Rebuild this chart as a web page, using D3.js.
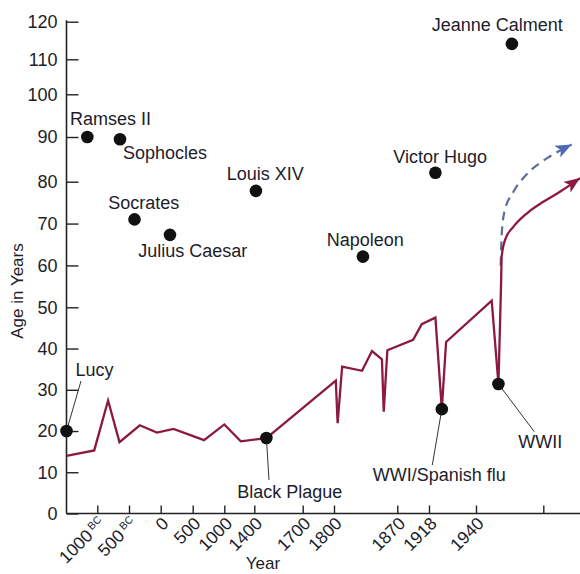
<!DOCTYPE html>
<html>
<head>
<meta charset="utf-8">
<script src="https://cdn.jsdelivr.net/npm/d3@7"></script>
<style>
  html, body { margin: 0; padding: 0; background: #ffffff; }
  svg { display: block; font-family: "Liberation Sans", Arial, sans-serif; }
</style>
</head>
<body>
<svg id="chart" width="580" height="574"></svg>
<script>
// ---------- DATA ----------
// x axis tick values (years, negative = BC) and their labels
const tickYears = [-1000, -500, 0, 500, 1000, 1400, 1700, 1800, 1870, 1918, 1940, 2000];
const tickLabels = ["1000", "500", "0", "500", "1000", "1400", "1700", "1800", "1870", "1918", "1940", ""];
const tickSuffix = ["BC", "BC", "", "", "", "", "", "", "", "", "", ""];
const ageTicks = [0, 10, 20, 30, 40, 50, 60, 70, 80, 90, 100, 110, 120];

// life expectancy line
const lineYears = [-1500, -1050, -830, -650, -330, -60, 200, 680, 1000, 1220, 1475, 1802, 1804, 1809, 1831, 1842, 1853, 1855, 1859, 1894, 1907, 1921, 1924, 1926, 1954, 1960];
const lineAges  = [14, 15.3, 27.4, 17.3, 21.4, 19.6, 20.5, 17.8, 21.6, 17.5, 18.3, 32.2, 21.9, 35.6, 34.6, 39.4, 37.4, 24.7, 39.6, 42.1, 45.9, 47.5, 25.3, 41.6, 51.6, 31.4];

// projections
const projYears = [1960, 1962.3, 1962.9, 1965.9, 1973.3, 1985.2, 2000, 2013.6, 2030];
const projAges  = [31.4, 55, 62.1, 66.1, 69.2, 72.4, 75.2, 77.6, 80.8];
const dashYears = [1962, 1962.4, 1963.2, 1965.5, 1973, 1986.6, 2002.8, 2023.2];
const dashAges  = [60, 64, 68.5, 73, 77.4, 82, 85.2, 88.3];

// famous people
const people      = ["Ramses II", "Sophocles", "Socrates", "Julius Caesar", "Louis XIV", "Napoleon", "Victor Hugo", "Jeanne Calment"];
const peopleYears = [-1162, -642, -413, 145, 1410, 1832, 1921, 1972];
const peopleAges  = [90, 89.5, 71, 67.3, 77.8, 62.1, 82, 114.1];

// events on the curve
const events      = ["Lucy", "Black Plague", "WWI/Spanish flu", "WWII"];
const eventYears  = [-1500, 1475, 1924, 1960];
const eventAges   = [20, 18.3, 25.3, 31.4];

// ---------- LAYOUT ----------
const xBreaks = [-1500, -1000, -500, 0, 500, 1000, 1400, 1700, 1800, 1870, 1918, 1940, 2000, 2030];
const xPix    = [66.5, 97.3, 129, 160.7, 192.7, 224.3, 254.3, 302.7, 334, 397.3, 429, 476, 543.3, 580];
const yBreaks = [0, 50, 80, 90, 100, 110, 120];
const yPix    = [513.5, 307.3, 181.7, 137, 94.3, 59.3, 21.7];

const peopleLabelPos = [[70,125],[123,159],[108.3,209.3],[138.3,257.3],[226.7,180],[326.7,246],[393.3,163],[431.7,31]];
const eventLabelPos  = [[75.5,375.5],[237.3,498],[372.7,481],[518.3,448]];
const eventLeaderEnd = [[81,381],[269,480],[432.3,465],[534.3,431.7]];

const textColor = "#1d1d2b";
const lineColor = "#8c1a3e";

const svg = d3.select("#chart");
const x = d3.scaleLinear().domain(xBreaks).range(xPix);
const y = d3.scaleLinear().domain(yBreaks).range(yPix);
const ox = x(xBreaks[0]), oy = y(0);

// ---------- Y AXIS ----------
const yAxis = d3.axisLeft(y).tickValues(ageTicks).tickSizeInner(-12).tickSizeOuter(0).tickPadding(9);
const gy = svg.append("g").attr("transform", `translate(${ox},0)`).call(yAxis);
gy.select(".domain").attr("stroke", "#222").attr("stroke-width", 1.6).attr("d", `M0,${y(120)-1.5}V${oy}`);
gy.selectAll(".tick line").attr("stroke", "#222").attr("stroke-width", 1.4);
gy.selectAll(".tick text").attr("fill", textColor).attr("font-size", 18).attr("font-family", "Liberation Sans, Arial, sans-serif");

svg.append("text")
  .attr("transform", `translate(23,291) rotate(-90)`)
  .attr("text-anchor", "middle")
  .attr("fill", textColor).attr("font-size", 17)
  .text("Age in Years");

// ---------- X AXIS ----------
const xAxis = d3.axisBottom(x).tickValues(tickYears).tickSizeInner(-8).tickSizeOuter(0).tickFormat("");
const gx = svg.append("g").attr("transform", `translate(0,${oy})`).call(xAxis);
gx.select(".domain").attr("stroke", "#222").attr("stroke-width", 1.6).attr("d", `M${ox},0H580`);
gx.selectAll(".tick line").attr("stroke", "#222").attr("stroke-width", 1.4);

tickYears.forEach((t, i) => {
  if (!tickLabels[i]) return;
  const tx = svg.append("text")
    .attr("transform", `translate(${x(t) + 9},${oy + 11}) rotate(-45)`)
    .attr("text-anchor", "end")
    .attr("fill", textColor).attr("font-size", 17.5);
  tx.append("tspan").text(tickLabels[i]);
  if (tickSuffix[i]) {
    tx.append("tspan").attr("font-size", 10.5).attr("dx", 3).attr("dy", -6).text(tickSuffix[i]);
  }
});

svg.append("text")
  .attr("x", 263).attr("y", 569)
  .attr("text-anchor", "middle")
  .attr("fill", textColor).attr("font-size", 17)
  .text("Year");

// ---------- MARKERS ----------
const defs = svg.append("defs");
function arrow(id, color) {
  defs.append("marker")
    .attr("id", id).attr("markerUnits", "userSpaceOnUse")
    .attr("markerWidth", 18).attr("markerHeight", 14)
    .attr("refX", 16).attr("refY", 6.5).attr("orient", "auto")
    .append("path").attr("d", "M0,0L16,6.5L0,13L4,6.5Z").attr("fill", color);
}
arrow("arrRed", lineColor);
arrow("arrBlue", "#4c6ab8");

// ---------- LINES ----------
const linePts = lineYears.map((d, i) => [d, lineAges[i]]);
svg.append("path")
  .attr("d", d3.line().x(d => x(d[0])).y(d => y(d[1]))(linePts))
  .attr("fill", "none").attr("stroke", lineColor).attr("stroke-width", 2.3)
  .attr("stroke-linejoin", "miter");

const dashPts = dashYears.map((d, i) => [d, dashAges[i]]);
svg.append("path")
  .attr("d", d3.line().x(d => x(d[0])).y(d => y(d[1])).curve(d3.curveMonotoneX)(dashPts))
  .attr("fill", "none").attr("stroke", "#5f6d9c").attr("stroke-width", 2.2)
  .attr("stroke-dasharray", "9,6")
  .attr("marker-end", "url(#arrBlue)");

const projPts = projYears.map((d, i) => [d, projAges[i]]);
svg.append("path")
  .attr("d", d3.line().x(d => x(d[0])).y(d => y(d[1])).curve(d3.curveMonotoneX)(projPts))
  .attr("fill", "none").attr("stroke", lineColor).attr("stroke-width", 2.3)
  .attr("marker-end", "url(#arrRed)");

// ---------- EVENTS ----------
events.forEach((name, i) => {
  const px = x(eventYears[i]), py = y(eventAges[i]);
  svg.append("line")
    .attr("x1", px).attr("y1", py)
    .attr("x2", eventLeaderEnd[i][0]).attr("y2", eventLeaderEnd[i][1])
    .attr("stroke", "#333").attr("stroke-width", 1);
});
events.forEach((name, i) => {
  svg.append("circle").attr("cx", x(eventYears[i])).attr("cy", y(eventAges[i])).attr("r", 6.3).attr("fill", "#111");
  svg.append("text").attr("x", eventLabelPos[i][0]).attr("y", eventLabelPos[i][1])
    .attr("fill", textColor).attr("font-size", 18).text(name);
});

// ---------- PEOPLE ----------
people.forEach((name, i) => {
  svg.append("circle").attr("cx", x(peopleYears[i])).attr("cy", y(peopleAges[i])).attr("r", 6.3).attr("fill", "#111");
  svg.append("text").attr("x", peopleLabelPos[i][0]).attr("y", peopleLabelPos[i][1])
    .attr("fill", textColor).attr("font-size", 18).text(name);
});
</script>
</body>
</html>
